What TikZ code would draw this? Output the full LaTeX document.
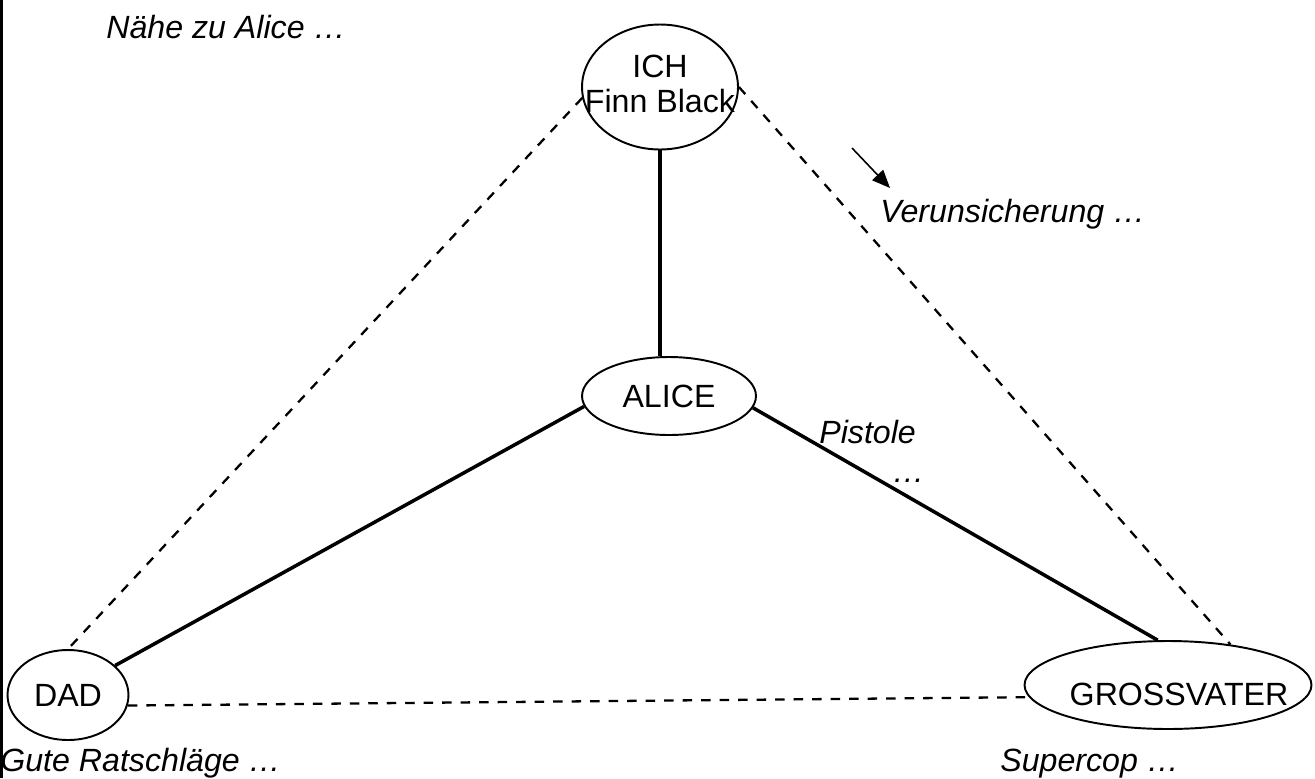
\documentclass[tikz,border=0pt]{standalone}
\usepackage{fontspec}
\setmainfont{Liberation Sans}
\usetikzlibrary{arrows.meta, calc, shapes.geometric}

\begin{document}
\begin{tikzpicture}[x=0.02cm, y=-0.02cm,
    font=\fontsize{18.3}{20}\selectfont,
    person/.style={draw, ellipse, line width=1.1pt, inner sep=0pt},
    bond/.style={line width=2pt},
    loose/.style={line width=1.3pt, dash pattern=on 0.19cm off 0.18cm},
    note/.style={anchor=base west, inner sep=0pt, font=\fontsize{18.3}{20}\selectfont\itshape}]
    \useasboundingbox (0,0) rectangle (1315,778);
    \fill (0,0) rectangle (3,778);

    \node[person, minimum width=3.12cm, minimum height=2.5cm,
        label={[align=center, yshift=0.07cm]center:ICH\\Finn Black}] (ich) at (660,87) {};
    \node[person, minimum width=3.48cm, minimum height=1.56cm] (alice) at (669,396) {ALICE};
    \node[person, minimum width=2.42cm, minimum height=1.8cm] (dad) at (68,695) {DAD};
    \node[person, minimum width=5.74cm, minimum height=1.76cm,
        label={[xshift=0.22cm, yshift=-0.18cm]center:GROSSVATER}] (gross) at (1168,685) {};

    \draw[bond] (ich.south) -- (ich.south |- alice.north);
    \draw[bond] (alice.187) -- (dad.32);
    \draw[bond] (alice.352) -- (gross.103);

    \draw[loose] (ich.188) -- (dad.north);
    \draw[loose] (ich.east) -- (gross.33);
    \draw[loose] (dad.350) -- (gross.185);

    \coordinate (hintS) at (852,148);
    \coordinate (hintE) at (890,188);
    \draw[-{Triangle[length=0.36cm, width=0.3cm]}, line width=0.9pt] (hintS) -- (hintE);

    \node[note] (naehe) at (106,38) {Nähe zu Alice …};
    \node[note] (verun) at (880,222) {Verunsicherung …};
    \node[note] (pistole) at (819,443) {Pistole};
    \node[note] (dots) at (892,482) {…};
    \node[note] (gute) at (0,771) {Gute Ratschläge …};
    \node[note] (super) at (1000,771) {Supercop …};
\end{tikzpicture}
\end{document}
